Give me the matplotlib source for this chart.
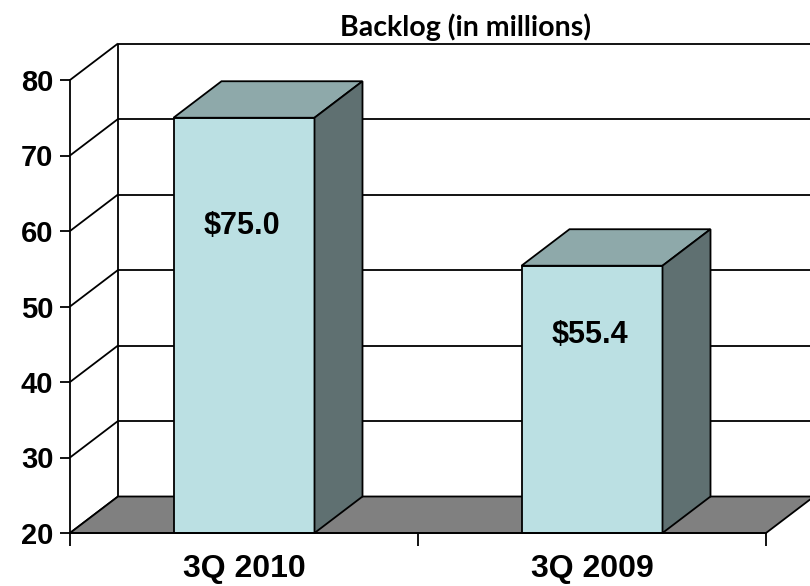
import matplotlib
matplotlib.use("Agg")
import matplotlib.pyplot as plt
from matplotlib.patches import Polygon

categories = ["3Q 2010", "3Q 2009"]
values = [75.0, 55.4]
labels = ["$75.0", "$55.4"]
yticks = [20, 30, 40, 50, 60, 70, 80]
title = "Backlog (in millions)"

FRONT = "#BBE0E3"
TOP = "#8EA9AA"
SIDE = "#5F7071"
FLOOR = "#808080"

W, H = 810, 586
fig = plt.figure(figsize=(W / 100, H / 100), dpi=100)
x0p, x1p, y0p, y1p = 70, 766, 533, 80
ax = fig.add_axes([x0p / W, (H - y0p) / H, (x1p - x0p) / W, (y0p - y1p) / H])
ymin, ymax = 20, 80
ax.set_xlim(0, len(categories))
ax.set_ylim(ymin, ymax)

# depth offset in data units
dx = 48 / ((x1p - x0p) / len(categories))
dy = 36.5 / ((y0p - y1p) / (ymax - ymin))

lw = 1.3
kw = dict(clip_on=False, color="black", lw=lw, solid_capstyle="butt")
# back wall gridlines and side-wall diagonals
for v in yticks:
    ax.plot([dx, len(categories) + dx], [v + dy, v + dy], zorder=1, **kw)
    ax.plot([0, dx], [v, v + dy], zorder=1, **kw)
ax.plot([dx, dx], [ymin + dy, ymax + dy], zorder=1, **kw)

# floor
n = len(categories)
floor = Polygon([(0, ymin), (n, ymin), (n + dx, ymin + dy), (dx, ymin + dy)],
                closed=True, facecolor=FLOOR, edgecolor="black", lw=lw,
                clip_on=False, zorder=2)
ax.add_patch(floor)

bw = 141 / ((x1p - x0p) / n)
for i, v in enumerate(values):
    c = i + 0.5
    a, b = c - bw / 2, c + bw / 2
    front = Polygon([(a, ymin), (b, ymin), (b, v), (a, v)], closed=True,
                    facecolor=FRONT, edgecolor="black", lw=lw, clip_on=False, zorder=3)
    top = Polygon([(a, v), (b, v), (b + dx, v + dy), (a + dx, v + dy)], closed=True,
                  facecolor=TOP, edgecolor="black", lw=lw, clip_on=False, zorder=3)
    side = Polygon([(b, ymin), (b + dx, ymin + dy), (b + dx, v + dy), (b, v)], closed=True,
                   facecolor=SIDE, edgecolor="black", lw=lw, clip_on=False, zorder=3)
    for p in (front, top, side):
        ax.add_patch(p)
    ax.text(c - 0.005, ymin + (v - ymin) * 0.74, labels[i], ha="center", va="center",
            fontsize=22, fontweight="bold", family="Liberation Sans", zorder=4)

# axes
for s in ("top", "right"):
    ax.spines[s].set_visible(False)
for s in ("left", "bottom"):
    ax.spines[s].set_linewidth(lw)
    ax.spines[s].set_zorder(5)
ax.set_yticks(yticks)
ax.set_yticklabels([str(t) for t in yticks], fontsize=21, fontweight="bold",
                   family="Liberation Sans")
ax.tick_params(axis="y", direction="out", length=7, width=lw, pad=5)
ax.set_xticks(range(n + 1))
ax.set_xticklabels([])
ax.tick_params(axis="x", direction="out", length=9, width=lw)
ax.set_xticks([i + 0.5 for i in range(n)], minor=True)
ax.set_xticklabels(categories, minor=True, fontsize=23, fontweight="bold",
                   family="Liberation Sans")
ax.tick_params(axis="x", which="minor", length=0, pad=15)
ax.patch.set_visible(False)

fig.text(466 / W, 1 - 27 / H, title, ha="center", va="center", fontsize=20.5,
         fontweight="bold", family="Lato")

fig.savefig("out.png", dpi=100)
